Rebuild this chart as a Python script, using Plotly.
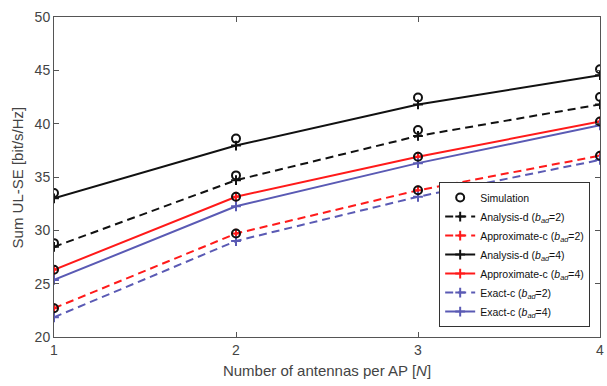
import plotly.graph_objects as go

N = [1, 2, 3, 4]

sim_top = [33.5, 38.6, 42.45, 45.1]
sim_mid = [28.8, 35.15, 39.4, 42.5]
sim_red = [26.3, 33.15, 36.9, 40.2]
sim_low = [22.7, 29.7, 33.75, 37.0]

analysis_d_2 = [28.45, 34.7, 38.85, 41.8]
approx_c_2 = [22.7, 29.7, 33.75, 37.0]
analysis_d_4 = [33.0, 37.95, 41.8, 44.55]
approx_c_4 = [26.3, 33.15, 36.9, 40.2]
exact_c_2 = [21.85, 29.0, 33.15, 36.6]
exact_c_4 = [25.35, 32.25, 36.3, 39.85]

BLACK = "#111111"
RED = "#FF1A1A"
BLUE = "#5A5AB4"
DASH = "8px,5px"

fig = go.Figure()

def line_trace(y, name, color, dash):
    return go.Scatter(
        x=N, y=y, name=name, mode="lines+markers",
        line=dict(color=color, width=2, dash=dash),
        marker=dict(symbol="cross-thin", size=7, line=dict(color=color, width=2), color=color),
    )

fig.add_trace(line_trace(analysis_d_2, "Analysis-d (<i>b</i><sub><i>ad</i></sub>=2)", BLACK, DASH))
fig.add_trace(line_trace(approx_c_2, "Approximate-c (<i>b</i><sub><i>ad</i></sub>=2)", RED, DASH))
fig.add_trace(line_trace(analysis_d_4, "Analysis-d (<i>b</i><sub><i>ad</i></sub>=4)", BLACK, "solid"))
fig.add_trace(line_trace(approx_c_4, "Approximate-c (<i>b</i><sub><i>ad</i></sub>=4)", RED, "solid"))
fig.add_trace(line_trace(exact_c_2, "Exact-c (<i>b</i><sub><i>ad</i></sub>=2)", BLUE, DASH))
fig.add_trace(line_trace(exact_c_4, "Exact-c (<i>b</i><sub><i>ad</i></sub>=4)", BLUE, "solid"))

for i, ys in enumerate([sim_top, sim_mid, sim_red, sim_low]):
    fig.add_trace(go.Scatter(
        x=N, y=ys, name="Simulation", mode="markers",
        marker=dict(symbol="circle-open", size=8, line=dict(color=BLACK, width=2), color=BLACK),
        showlegend=(i == 0), legendrank=1,
    ))

axis_common = dict(
    showgrid=False, zeroline=False, showline=True, linecolor="#555555", linewidth=1,
    mirror="ticks", ticks="inside", ticklen=5, tickcolor="#555555",
    tickfont=dict(family="Liberation Sans, Arial", size=14, color="#444444"),
    ticklabeloverflow="allow",
)

fig.update_layout(
    width=607, height=386,
    margin=dict(l=54, r=3, t=17, b=49),
    paper_bgcolor="white", plot_bgcolor="white",
    font=dict(family="Liberation Sans, Arial", color="#444444"),
    xaxis=dict(range=[1, 4], tickvals=N, title=dict(text="Number of antennas per AP [<i>N</i>]",
               font=dict(size=15, color="#444444"), standoff=8), **axis_common),
    yaxis=dict(range=[20, 50], tickvals=[20, 25, 30, 35, 40, 45, 50], **axis_common),
    annotations=[dict(
        text="Sum UL-SE [bit/s/Hz]", textangle=-90, showarrow=False,
        xref="paper", yref="paper", x=-0.067, y=0.5, xanchor="center", yanchor="middle",
        font=dict(size=15, color="#444444", family="Liberation Sans, Arial"),
    )],
    showlegend=True,
    legend=dict(
        x=0.982, y=0.031, xanchor="right", yanchor="bottom",
        bgcolor="white", bordercolor="#333333", borderwidth=1,
        font=dict(size=10.5, color="#111111"), tracegroupgap=0,
        itemwidth=30,
    ),
)

fig.write_html("out.html")
